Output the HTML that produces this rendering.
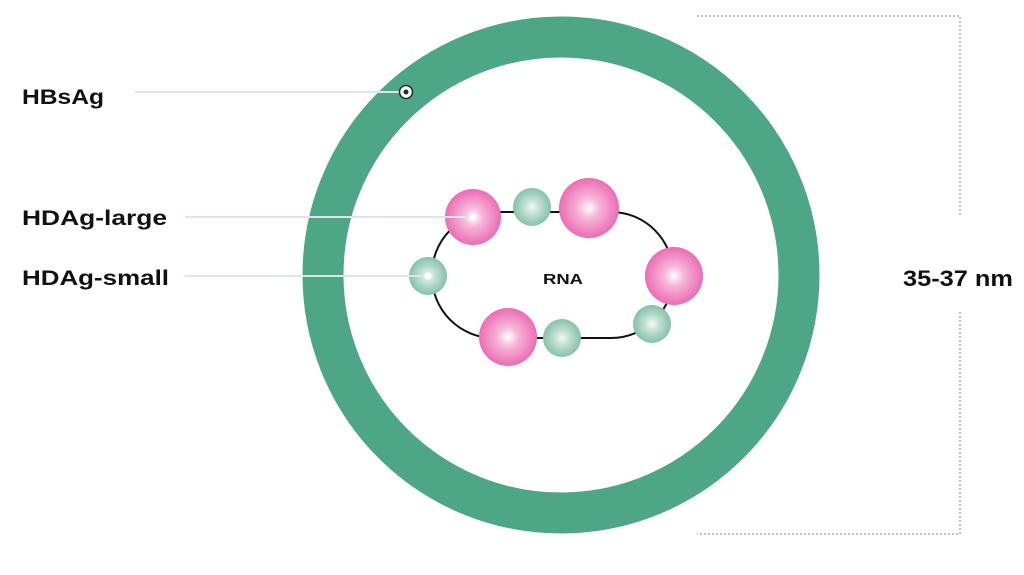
<!DOCTYPE html>
<html><head><style>
body{margin:0;background:#fff;}
svg{display:block;}
text{font-family:"Liberation Sans",sans-serif;font-weight:bold;fill:#111;}
</style></head><body>
<svg width="1024" height="575" viewBox="0 0 1024 575">
<defs>
<radialGradient id="pk" cx="0.5" cy="0.5" r="0.5">
<stop offset="0" stop-color="#fff"/><stop offset="0.35" stop-color="#f7b5da"/><stop offset="1" stop-color="#ec6cb3"/></radialGradient>
<radialGradient id="tl" cx="0.5" cy="0.5" r="0.5">
<stop offset="0" stop-color="#f4fbf8"/><stop offset="0.4" stop-color="#bfe0d2"/><stop offset="1" stop-color="#86c0aa"/></radialGradient>
</defs>
<circle cx="561" cy="275" r="238" fill="none" stroke="#4da685" stroke-width="41"/>
<path d="M697 16 H960 V215 M960 312 V534 H697" fill="none" stroke="#7a8a90" stroke-width="1" stroke-dasharray="2,2"/>
<text x="903" y="286" font-size="22" textLength="110" lengthAdjust="spacingAndGlyphs">35-37 nm</text>
<rect x="432" y="212" width="241" height="126" rx="62" ry="62" fill="none" stroke="#111" stroke-width="2"/>
<text x="543" y="284" font-size="15" textLength="40" lengthAdjust="spacingAndGlyphs">RNA</text>
<circle cx="473" cy="217" r="28" fill="url(#pk)"/>
<circle cx="532" cy="207" r="19" fill="url(#tl)"/>
<circle cx="589" cy="208" r="30" fill="url(#pk)"/>
<circle cx="674" cy="276" r="29" fill="url(#pk)"/>
<circle cx="428" cy="276" r="19" fill="url(#tl)"/>
<circle cx="508" cy="337" r="29" fill="url(#pk)"/>
<circle cx="562" cy="338" r="19" fill="url(#tl)"/>
<circle cx="652" cy="324" r="19" fill="url(#tl)"/>
<line x1="135" y1="92" x2="399" y2="92" stroke="#dde6ea" stroke-width="2"/>
<line x1="185" y1="217" x2="471" y2="217" stroke="#dde6ea" stroke-width="2"/>
<line x1="185" y1="276" x2="426" y2="276" stroke="#dde6ea" stroke-width="2"/>
<circle cx="406" cy="92" r="6.5" fill="#fff" stroke="#1f2a2a" stroke-width="1.5"/>
<circle cx="406" cy="92" r="2.5" fill="#1f2a2a"/>
<circle cx="473" cy="217" r="3.5" fill="#fff"/>
<circle cx="428" cy="276" r="3.5" fill="#fff"/>
<text x="22" y="104" font-size="21" textLength="82" lengthAdjust="spacingAndGlyphs">HBsAg</text>
<text x="22" y="225" font-size="21" textLength="145" lengthAdjust="spacingAndGlyphs">HDAg-large</text>
<text x="22" y="285" font-size="21" textLength="147" lengthAdjust="spacingAndGlyphs">HDAg-small</text>
</svg>
</body></html>
